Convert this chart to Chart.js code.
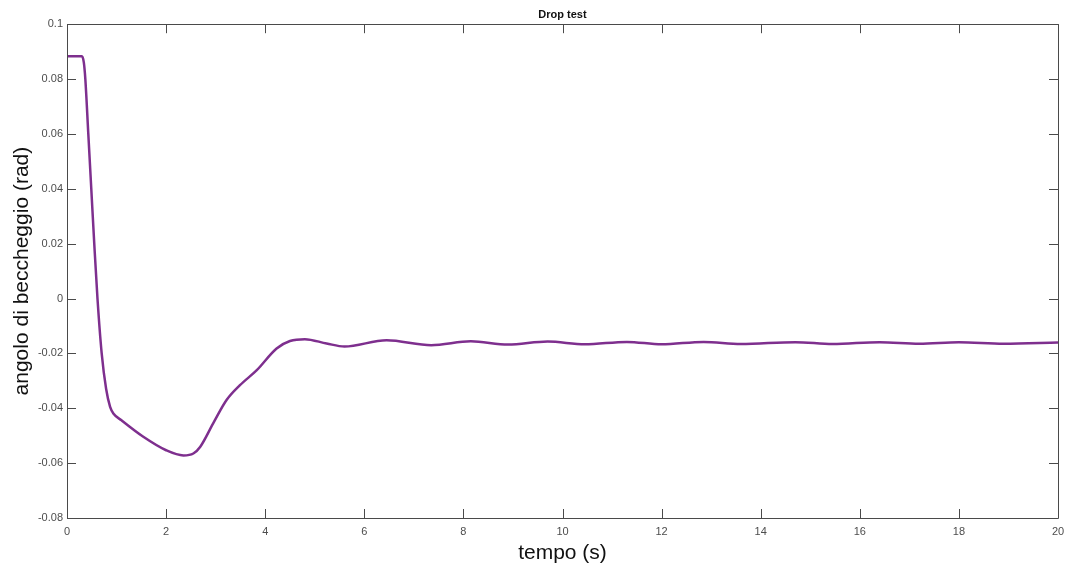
<!DOCTYPE html>
<html>
<head>
<meta charset="utf-8">
<script src="https://cdn.jsdelivr.net/npm/chart.js@4/dist/chart.umd.min.js"></script>
<style>
  html, body { margin: 0; padding: 0; background: #fff; }
  #wrap { width: 1067px; height: 564px; }
</style>
</head>
<body>
<div id="wrap"><canvas id="chart"></canvas></div>
<script>
// time (s) and pitch angle (rad)
const timeValues = [0, 0.30, 0.34, 0.37, 0.43, 0.49, 0.55, 0.615, 0.70, 0.79, 0.87, 0.94,
    1.10, 1.54, 2.00, 2.35, 2.55, 2.69, 2.95, 3.22, 3.49, 3.83, 4.23, 4.50, 4.80,
    5.24, 5.60, 6.45, 7.35, 8.15, 8.90, 9.70, 10.45, 11.30, 12.00, 12.85, 13.60,
    14.70, 15.45, 16.40, 17.20, 18.00, 18.90, 20.00];
const angleValues = [0.0883, 0.0883, 0.0860, 0.0800, 0.0600, 0.0400, 0.0200, 0.0000, -0.0200, -0.0330, -0.0395, -0.0420,
    -0.0444, -0.0504, -0.0553, -0.0572, -0.0565, -0.0540, -0.0455, -0.0370, -0.0316, -0.0261, -0.0182, -0.0155, -0.0148,
    -0.0164, -0.0175, -0.0152, -0.0170, -0.0156, -0.0168, -0.0157, -0.0167, -0.0158, -0.0167, -0.0158, -0.0166,
    -0.0159, -0.0166, -0.0159, -0.0165, -0.0159, -0.0165, -0.0160];

const xTicks = [0, 2, 4, 6, 8, 10, 12, 14, 16, 18, 20];
const yTicks = [-0.08, -0.06, -0.04, -0.02, 0, 0.02, 0.04, 0.06, 0.08, 0.1];

const chartTitle = 'Drop test';
const xTitle = 'tempo (s)';
const yTitle = 'angolo di beccheggio (rad)';

const axisColor = '#4a4a4a';
const tickLen = 9;

// MATLAB-style box with inward ticks on all four sides
const boxPlugin = {
    id: 'boxPlugin',
    afterDatasetsDraw(chart) {
        const ctx = chart.ctx;
        const a = chart.chartArea;
        const xs = chart.scales.x;
        const ys = chart.scales.y;
        ctx.save();
        ctx.strokeStyle = axisColor;
        ctx.lineWidth = 1;
        ctx.beginPath();
        ctx.rect(Math.round(a.left) + 0.5, Math.round(a.top) + 0.5,
                 Math.round(a.right - a.left), Math.round(a.bottom - a.top));
        xTicks.forEach(v => {
            const px = Math.round(xs.getPixelForValue(v)) + 0.5;
            ctx.moveTo(px, a.bottom); ctx.lineTo(px, a.bottom - tickLen);
            ctx.moveTo(px, a.top); ctx.lineTo(px, a.top + tickLen);
        });
        yTicks.forEach(v => {
            const py = Math.round(ys.getPixelForValue(v)) + 0.5;
            ctx.moveTo(a.left, py); ctx.lineTo(a.left + tickLen, py);
            ctx.moveTo(a.right, py); ctx.lineTo(a.right - tickLen, py);
        });
        ctx.stroke();
        ctx.restore();
    }
};

function formatTick(v) {
    const r = Math.round(v * 100) / 100;
    return r === 0 ? '0' : String(r);
}

const points = timeValues.map((t, i) => ({ x: t, y: angleValues[i] }));

new Chart(document.getElementById('chart').getContext('2d'), {
    type: 'line',
    data: {
        datasets: [{
            data: points,
            borderColor: '#7e2f8e',
            borderWidth: 2.5,
            pointRadius: 0,
            cubicInterpolationMode: 'monotone',
            fill: false
        }]
    },
    options: {
        responsive: true,
        maintainAspectRatio: false,
        animation: false,
        layout: { padding: { top: 0, right: 0, bottom: 0, left: 0 } },
        plugins: {
            legend: { display: false },
            tooltip: { enabled: false },
            title: {
                display: true,
                text: chartTitle,
                fullSize: false,
                color: '#111',
                font: { family: 'Liberation Sans, Arial, sans-serif', size: 11, weight: 'bold', lineHeight: 1.2 },
                padding: { top: 8, bottom: 3 }
            }
        },
        scales: {
            x: {
                type: 'linear',
                min: 0,
                max: 20,
                grid: { display: false, drawTicks: false },
                border: { display: false },
                afterBuildTicks: s => { s.ticks = xTicks.map(v => ({ value: v })); },
                afterFit: s => { s.height = 46; s.paddingRight = 9; },
                ticks: {
                    padding: 7,
                    maxRotation: 0,
                    color: '#4d4d4d',
                    font: { family: 'Liberation Sans, Arial, sans-serif', size: 11 },
                    callback: v => formatTick(v)
                },
                title: {
                    display: true,
                    text: xTitle,
                    color: '#111',
                    font: { family: 'Liberation Sans, Arial, sans-serif', size: 21, lineHeight: 1 },
                    padding: { top: 0, bottom: 0 }
                }
            },
            y: {
                type: 'linear',
                min: -0.08,
                max: 0.1,
                grid: { display: false, drawTicks: false },
                border: { display: false },
                afterBuildTicks: s => { s.ticks = yTicks.map(v => ({ value: v })); },
                afterFit: s => { s.width = 67; },
                ticks: {
                    padding: 4,
                    color: '#4d4d4d',
                    font: { family: 'Liberation Sans, Arial, sans-serif', size: 11 },
                    callback: v => formatTick(v)
                },
                title: {
                    display: true,
                    text: yTitle,
                    color: '#111',
                    font: { family: 'Liberation Sans, Arial, sans-serif', size: 21, lineHeight: 1 },
                    padding: { top: 12, bottom: 0 }
                }
            }
        }
    },
    plugins: [boxPlugin]
});
</script>
</body>
</html>
